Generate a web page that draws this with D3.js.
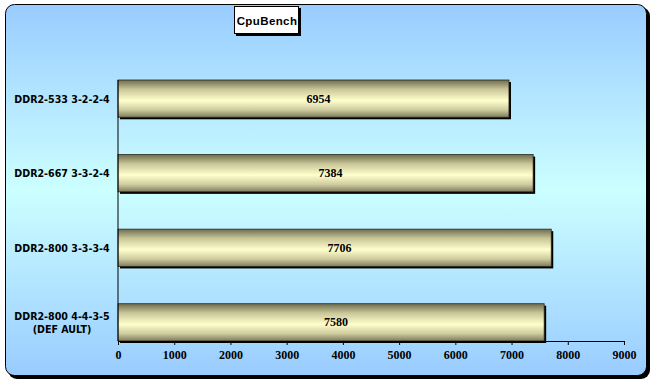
<!DOCTYPE html>
<html>
<head>
<meta charset="utf-8">
<script src="https://cdn.jsdelivr.net/npm/d3@7"></script>
<style>
  body { margin: 0; background: #fff; }
  svg { display: block; }
</style>
</head>
<body>
<svg></svg>
<script>
// CpuBench bar chart

var categories = ["DDR2-533 3-2-2-4", "DDR2-667 3-3-2-4", "DDR2-800 3-3-3-4", "DDR2-800 4-4-3-5\n(DEF AULT)"];
var values = [6954, 7384, 7706, 7580];
var xTicks = [0, 1000, 2000, 3000, 4000, 5000, 6000, 7000, 8000, 9000];
var title = "CpuBench";

var svgWidth = 654, svgHeight = 384;

var svg = d3.select("svg")
    .attr("width", svgWidth)
    .attr("height", svgHeight);

var defs = svg.append("defs");

var bg = defs.append("linearGradient")
    .attr("id", "bg")
    .attr("x1", 0).attr("y1", 0).attr("x2", 0).attr("y2", 1);
bg.append("stop").attr("offset", "0%").attr("stop-color", "#99ccff");
bg.append("stop").attr("offset", "50%").attr("stop-color", "#ccffff");
bg.append("stop").attr("offset", "100%").attr("stop-color", "#99ccff");

var barGrad = defs.append("linearGradient")
    .attr("id", "barGrad")
    .attr("x1", 0).attr("y1", 0).attr("x2", 0).attr("y2", 1);
barGrad.append("stop").attr("offset", "0%").attr("stop-color", "#6e6c4e");
barGrad.append("stop").attr("offset", "25%").attr("stop-color", "#c9c699");
barGrad.append("stop").attr("offset", "55%").attr("stop-color", "#ffffcc");
barGrad.append("stop").attr("offset", "80%").attr("stop-color", "#cfcca0");
barGrad.append("stop").attr("offset", "100%").attr("stop-color", "#7e7b5c");

// frame with shadow
svg.append("rect")
    .attr("x", 8).attr("y", 7)
    .attr("width", 642).attr("height", 372)
    .attr("rx", 9)
    .attr("fill", "#000");
svg.append("rect")
    .attr("x", 5.5).attr("y", 4.5)
    .attr("width", 641).attr("height", 371)
    .attr("rx", 9)
    .attr("fill", "url(#bg)")
    .attr("stroke", "#000")
    .attr("stroke-width", 1);

// title box
svg.append("rect")
    .attr("x", 236).attr("y", 8)
    .attr("width", 65).attr("height", 28)
    .attr("fill", "#000");
svg.append("rect")
    .attr("x", 234.5).attr("y", 6.5)
    .attr("width", 64).attr("height", 27)
    .attr("fill", "#fff")
    .attr("stroke", "#000");
svg.append("text")
    .attr("x", 267).attr("y", 24.5)
    .attr("text-anchor", "middle")
    .attr("font-family", "Liberation Sans, Arial, sans-serif")
    .attr("font-weight", "bold")
    .attr("font-size", 11.5)
    .attr("letter-spacing", 0.4)
    .text(title);

var xScale = d3.scaleLinear()
    .domain([0, 9000])
    .range([118, 624]);

var yScale = d3.scaleBand()
    .domain(categories)
    .range([80, 341])
    .paddingInner(0.5)
    .paddingOuter(0);

var bars = svg.append("g");

// shadows
bars.selectAll("rect.shadow")
    .data(values)
    .enter()
    .append("rect")
    .attr("class", "shadow")
    .attr("x", xScale(0) + 2)
    .attr("y", function(d, i) { return yScale(categories[i]) + 2; })
    .attr("width", function(d) { return xScale(d) - xScale(0); })
    .attr("height", yScale.bandwidth())
    .attr("fill", "#000");

bars.selectAll("rect.bar")
    .data(values)
    .enter()
    .append("rect")
    .attr("class", "bar")
    .attr("x", xScale(0))
    .attr("y", function(d, i) { return yScale(categories[i]); })
    .attr("width", function(d) { return xScale(d) - xScale(0); })
    .attr("height", yScale.bandwidth())
    .attr("fill", "url(#barGrad)")
    .attr("stroke", "#2b2a1c")
    .attr("stroke-width", 0.8);

bars.selectAll("text.val")
    .data(values)
    .enter()
    .append("text")
    .attr("class", "val")
    .attr("x", function(d) { return (xScale(0) + xScale(d)) / 2 + 5; })
    .attr("y", function(d, i) { return yScale(categories[i]) + yScale.bandwidth() / 2 + 4; })
    .attr("text-anchor", "middle")
    .attr("font-family", "Liberation Serif, Times New Roman, serif")
    .attr("font-weight", "bold")
    .attr("font-size", 12)
    .text(function(d) { return d; });

// x axis
var xAxis = svg.append("g")
    .attr("transform", "translate(0,341)")
    .call(d3.axisBottom(xScale).tickValues(xTicks).tickSize(4).tickSizeOuter(0).tickFormat(d3.format("d")));
xAxis.select(".domain").attr("stroke", "#000");
xAxis.selectAll("text")
    .attr("font-family", "Liberation Serif, Times New Roman, serif")
    .attr("font-weight", "bold")
    .attr("font-size", 12)
    .attr("fill", "#000")
    .attr("dy", "0.95em");

// y axis line
svg.append("line")
    .attr("x1", 118).attr("x2", 118)
    .attr("y1", 80).attr("y2", 341)
    .attr("stroke", "#000");

// category labels
var catLabels = svg.selectAll("text.cat")
    .data(categories)
    .enter()
    .append("text")
    .attr("class", "cat")
    .attr("text-anchor", "middle")
    .attr("font-family", "DejaVu Sans Condensed, DejaVu Sans, sans-serif")
    .attr("font-weight", "bold")
    .attr("font-size", 10.6)
    .attr("fill", "#000");

catLabels.each(function(d) {
    var lines = d.split("\n");
    var cy = yScale(d) + yScale.bandwidth() / 2;
    var t = d3.select(this);
    lines.forEach(function(line, j) {
        t.append("tspan")
            .attr("x", 62)
            .attr("y", cy + 4 + (j - (lines.length - 1) / 2) * 13)
            .text(line);
    });
});
</script>
</body>
</html>
